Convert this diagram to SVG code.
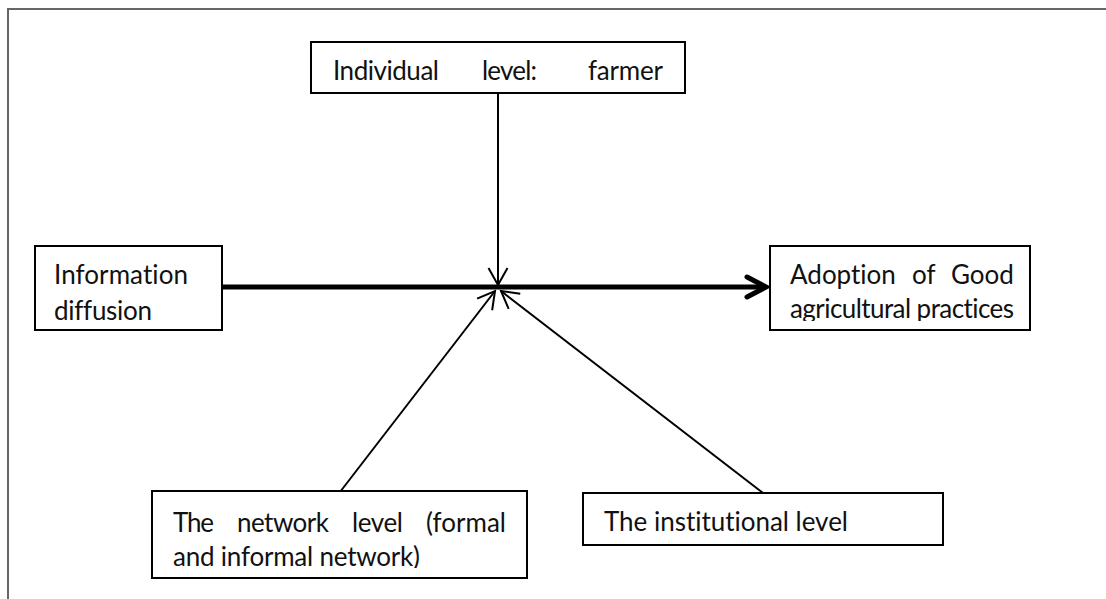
<svg xmlns="http://www.w3.org/2000/svg" width="1106" height="599" viewBox="0 0 1106 599">
  <style>
    .box { fill: #ffffff; stroke: #000000; stroke-width: 2; }
    .lbl { font-family: Lato, "Liberation Sans", sans-serif; font-size: 26px; fill: #111111; font-variant-ligatures: none; }
    .thin { stroke: #000000; stroke-width: 2; fill: none; }
    .thick { stroke: #000000; stroke-width: 5; fill: none; }
    .frame { stroke: #666666; stroke-width: 2; fill: none; }
  </style>
  <defs>
    <marker id="openArrow" markerUnits="userSpaceOnUse" viewBox="-25 -15 30 30" refX="0" refY="0" markerWidth="30" markerHeight="30" orient="auto">
      <path d="M-17,-9.5 L0,0 L-17,9.5" fill="none" stroke="#000" stroke-width="2"/>
    </marker>
    <marker id="boldArrow" markerUnits="userSpaceOnUse" viewBox="-28 -16 34 32" refX="0" refY="0" markerWidth="34" markerHeight="32" orient="auto">
      <path d="M-19,-10 L0,0 L-19,10" fill="none" stroke="#000" stroke-width="5" stroke-linecap="round" stroke-linejoin="miter"/>
    </marker>
    <!-- second text lines overflow their boxes and are cut off -->
    <clipPath id="clipAdoption"><rect x="770" y="246" width="260" height="75"/></clipPath>
    <clipPath id="clipNetwork"><rect x="152" y="491" width="375" height="77"/></clipPath>
  </defs>

  <!-- page frame -->
  <path class="frame" d="M7,9 H1106 M8,9 V599"/>

  <!-- connectors -->
  <g id="connectors">
    <line class="thick" x1="222" y1="287" x2="766" y2="287" marker-end="url(#boldArrow)"/>
    <line class="thin" x1="498" y1="93" x2="498" y2="285" marker-end="url(#openArrow)"/>
    <line class="thin" x1="340" y1="492" x2="495" y2="291" marker-end="url(#openArrow)"/>
    <line class="thin" x1="763" y1="493" x2="501" y2="291" marker-end="url(#openArrow)"/>
  </g>

  <!-- individual level -->
  <g id="node-individual">
    <rect class="box" x="311" y="42" width="374" height="51"/>
    <text class="lbl" x="333" y="80" textLength="106">Individual</text>
    <text class="lbl" x="482" y="80" textLength="55">level:</text>
    <text class="lbl" x="588" y="80" textLength="75">farmer</text>
  </g>

  <!-- information diffusion -->
  <g id="node-information">
    <rect class="box" x="35" y="246" width="187" height="84"/>
    <text class="lbl" x="54" y="284" textLength="134">Information</text>
    <text class="lbl" x="54" y="320" textLength="98">diffusion</text>
  </g>

  <!-- adoption of good agricultural practices -->
  <g id="node-adoption">
    <rect class="box" x="770" y="246" width="260" height="84"/>
    <text class="lbl" x="790" y="284">Adoption</text>
    <text class="lbl" x="912" y="284">of</text>
    <text class="lbl" x="951" y="284">Good</text>
    <text class="lbl" x="790" y="318" textLength="224" clip-path="url(#clipAdoption)">agricultural practices</text>
  </g>

  <!-- network level -->
  <g id="node-network">
    <rect class="box" x="152" y="491" width="375" height="87"/>
    <text class="lbl" x="173" y="532" textLength="41">The</text>
    <text class="lbl" x="237" y="532" textLength="92">network</text>
    <text class="lbl" x="352" y="532" textLength="51">level</text>
    <text class="lbl" x="426" y="532" textLength="80">(formal</text>
    <text class="lbl" x="173" y="566" textLength="247" clip-path="url(#clipNetwork)">and informal network)</text>
  </g>

  <!-- institutional level -->
  <g id="node-institutional">
    <rect class="box" x="583" y="493" width="360" height="52"/>
    <text class="lbl" x="604" y="531" textLength="244">The institutional level</text>
  </g>
</svg>
